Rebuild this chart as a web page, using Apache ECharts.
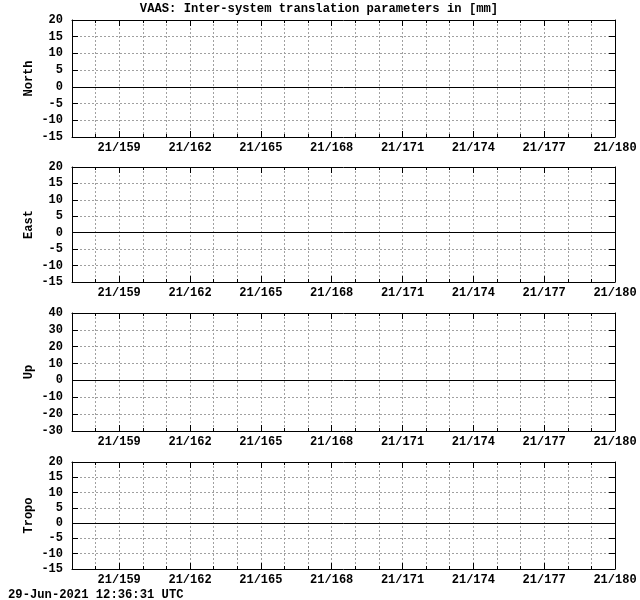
<!DOCTYPE html>
<html>
<head>
<meta charset="utf-8">
<script src="https://cdn.jsdelivr.net/npm/echarts@6/dist/echarts.min.js"></script>
<style>html,body{margin:0;padding:0;background:#fff;}#c{width:640px;height:600px;}</style>
</head>
<body>
<div id="c"></div>
<script>
// ---- data ----
const titleText = 'VAAS: Inter-system translation parameters in [mm]';
const footerText = '29-Jun-2021 12:36:31 UTC';
const dayMin = 157;
const dayMax = 180;
const labelDays = [159, 162, 165, 168, 171, 174, 177, 180];
const yearPrefix = '21/';
const panelNames = ['North', 'East', 'Up', 'Tropo'];
const yMins = [-15, -15, -30, -15];
const yMaxs = [20, 20, 40, 20];
const yIntervals = [5, 5, 10, 5];
const northValues = [];
const eastValues = [];
const upValues = [];
const tropoValues = [];
const panelValues = [northValues, eastValues, upValues, tropoValues];

// ---- layout ----
const gridTops = [20, 167, 313, 462];
const gridHeights = [117, 115, 118, 107];
const FONT = '"Liberation Mono", "DejaVu Sans Mono", monospace';
const lineStyle = { color: '#000', width: 1 };
const dash = { color: '#a0a0a0', width: 1, type: [2, 2] };

const grids = [], xAxes = [], yAxes = [], series = [];
panelNames.forEach((name, i) => {
  grids.push({ left: 72, right: 25, top: gridTops[i], height: gridHeights[i], containLabel: false });
  const base = xAxes.length;
  const yBase = yAxes.length;
  xAxes.push({
    type: 'value', gridIndex: i, position: 'bottom', min: dayMin, max: dayMax, interval: 1,
    axisLine: { show: true, onZero: false, lineStyle },
    axisTick: { show: true, inside: true, length: 3, lineStyle },
    splitLine: { show: true, lineStyle: dash },
    axisLabel: {
      show: true, customValues: labelDays, margin: 5,
      fontFamily: FONT, fontWeight: 'bold', fontSize: 12, color: '#000',
      formatter: v => yearPrefix + v
    }
  });
  xAxes.push({
    type: 'value', gridIndex: i, position: 'bottom', min: dayMin, max: dayMax,
    axisLine: { show: false, onZero: false },
    axisTick: { show: true, inside: true, length: 6, customValues: labelDays, lineStyle },
    splitLine: { show: false }, axisLabel: { show: false }
  });
  xAxes.push({
    type: 'value', gridIndex: i, position: 'top', min: dayMin, max: dayMax, interval: 1,
    axisLine: { show: true, onZero: false, lineStyle },
    axisTick: { show: true, inside: true, length: 3, lineStyle },
    splitLine: { show: false }, axisLabel: { show: false }
  });
  xAxes.push({
    type: 'value', gridIndex: i, position: 'top', min: dayMin, max: dayMax,
    axisLine: { show: false, onZero: false },
    axisTick: { show: true, inside: true, length: 6, customValues: labelDays, lineStyle },
    splitLine: { show: false }, axisLabel: { show: false }
  });
  yAxes.push({
    type: 'value', gridIndex: i, position: 'left', min: yMins[i], max: yMaxs[i], interval: yIntervals[i],
    name: name, nameLocation: 'middle', nameGap: 37, nameRotate: 90, nameMoveOverlap: false,
    nameTextStyle: { fontFamily: FONT, fontWeight: 'bold', fontSize: 12, color: '#000' },
    axisLine: { show: true, onZero: false, lineStyle },
    axisTick: { show: true, inside: true, length: 6, lineStyle },
    splitLine: { show: true, lineStyle: dash },
    axisLabel: { show: true, margin: 9, fontFamily: FONT, fontWeight: 'bold', fontSize: 12, color: '#000' }
  });
  yAxes.push({
    type: 'value', gridIndex: i, position: 'right', min: yMins[i], max: yMaxs[i], interval: yIntervals[i],
    axisLine: { show: true, onZero: false, lineStyle },
    axisTick: { show: true, inside: true, length: 6, lineStyle },
    splitLine: { show: false }, axisLabel: { show: false }
  });
  series.push({
    type: 'line', xAxisIndex: base, yAxisIndex: yBase, data: panelValues[i],
    symbol: 'none', lineStyle: { color: '#ff0000', width: 1 }, silent: true,
    markLine: {
      silent: true, symbol: 'none', label: { show: false },
      lineStyle: { color: '#000', width: 1, type: 'solid' },
      data: [{ yAxis: 0 }]
    }
  });
});

const chart = echarts.init(document.getElementById('c'), null, { renderer: 'canvas' });
chart.setOption({
  animation: false,
  backgroundColor: '#fff',
  title: [
    { text: titleText, left: 314, top: -2, textAlign: 'center',
      textStyle: { fontFamily: FONT, fontWeight: 'bold', fontSize: 12.2, color: '#000' } },
    { text: footerText, left: 3, top: 584,
      textStyle: { fontFamily: FONT, fontWeight: 'bold', fontSize: 12.2, color: '#000' } }
  ],
  grid: grids,
  xAxis: xAxes,
  yAxis: yAxes,
  series: series
});
</script>
</body>
</html>
